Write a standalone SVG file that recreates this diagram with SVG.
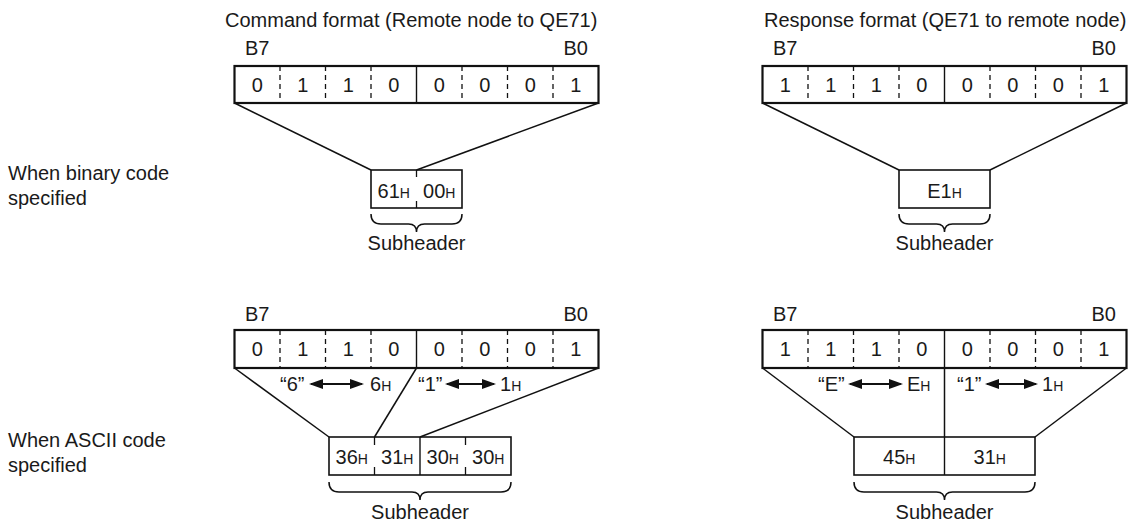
<svg xmlns="http://www.w3.org/2000/svg" width="1141" height="525" viewBox="0 0 1141 525">
<style>
text{font-family:"Liberation Sans",Arial,Helvetica,sans-serif;fill:#1a1a1a;font-size:20px}
.m{text-anchor:middle}
.h{font-size:14px}
.frame{fill:none;stroke:#111;stroke-width:2.2}
.box{fill:#fff;stroke:#111;stroke-width:1.6}
.solid{stroke:#111;stroke-width:1.4}
.dash{stroke:#111;stroke-width:1.3;stroke-dasharray:5 4}
.tick{stroke:#111;stroke-width:1.3}
.ln{fill:none;stroke:#111;stroke-width:1.5}
.arr{stroke:#111;stroke-width:2;marker-start:url(#ah);marker-end:url(#ah)}
</style>
<defs>
<marker id="ah" markerUnits="userSpaceOnUse" markerWidth="14" markerHeight="10" refX="12" refY="5" orient="auto-start-reverse">
<path d="M0,0 L14,5 L0,10 Z" fill="#111"/>
</marker>
</defs>

<g id="title-cmd"><text x="225" y="27">Command format (Remote node to QE71)</text></g>
<g id="title-resp"><text x="764" y="27">Response format (QE71 to remote node)</text></g>

<g id="label-binary"><text x="8" y="180">When binary code</text><text x="8" y="205">specified</text></g>
<g id="label-ascii"><text x="8" y="447">When ASCII code</text><text x="8" y="472">specified</text></g>

<!-- Command, binary -->
<g id="reg-cmd-bin">
<text class="m" x="257.25" y="55">B7</text><text class="m" x="575.75" y="55">B0</text>
<rect class="frame" x="234.5" y="66" width="364" height="37"/>
<line class="dash" x1="280" y1="66" x2="280" y2="103"/><line class="dash" x1="325.5" y1="66" x2="325.5" y2="103"/><line class="dash" x1="371" y1="66" x2="371" y2="103"/>
<line class="solid" x1="416.5" y1="66" x2="416.5" y2="103"/>
<line class="dash" x1="462" y1="66" x2="462" y2="103"/><line class="dash" x1="507.5" y1="66" x2="507.5" y2="103"/><line class="dash" x1="553" y1="66" x2="553" y2="103"/>
<text class="m" x="257.25" y="92">0</text><text class="m" x="302.75" y="92">1</text><text class="m" x="348.25" y="92">1</text><text class="m" x="393.75" y="92">0</text>
<text class="m" x="439.25" y="92">0</text><text class="m" x="484.75" y="92">0</text><text class="m" x="530.25" y="92">0</text><text class="m" x="575.75" y="92">1</text>
</g>
<g id="sub-cmd-bin">
<rect class="box" x="371" y="170" width="91" height="38"/>
<line class="tick" x1="416.5" y1="170" x2="416.5" y2="177"/><line class="tick" x1="416.5" y1="201" x2="416.5" y2="208"/>
<text class="m" x="393.75" y="198">61<tspan class="h">H</tspan></text>
<text class="m" x="439.25" y="198">00<tspan class="h">H</tspan></text>
<text class="m" x="416.5" y="250">Subheader</text>
</g>

<!-- Response, binary -->
<g id="reg-resp-bin">
<text class="m" x="785.25" y="55">B7</text><text class="m" x="1103.75" y="55">B0</text>
<rect class="frame" x="762.5" y="66" width="364" height="37"/>
<line class="dash" x1="808" y1="66" x2="808" y2="103"/><line class="dash" x1="853.5" y1="66" x2="853.5" y2="103"/><line class="dash" x1="899" y1="66" x2="899" y2="103"/>
<line class="solid" x1="944.5" y1="66" x2="944.5" y2="103"/>
<line class="dash" x1="990" y1="66" x2="990" y2="103"/><line class="dash" x1="1035.5" y1="66" x2="1035.5" y2="103"/><line class="dash" x1="1081" y1="66" x2="1081" y2="103"/>
<text class="m" x="785.25" y="92">1</text><text class="m" x="830.75" y="92">1</text><text class="m" x="876.25" y="92">1</text><text class="m" x="921.75" y="92">0</text>
<text class="m" x="967.25" y="92">0</text><text class="m" x="1012.75" y="92">0</text><text class="m" x="1058.25" y="92">0</text><text class="m" x="1103.75" y="92">1</text>
</g>
<g id="sub-resp-bin">
<rect class="box" x="899" y="170" width="91" height="38"/>
<text class="m" x="944.5" y="198">E1<tspan class="h">H</tspan></text>
<text class="m" x="944.5" y="250">Subheader</text>
</g>

<!-- Command, ASCII -->
<g id="reg-cmd-ascii">
<text class="m" x="257.25" y="321">B7</text><text class="m" x="575.75" y="321">B0</text>
<rect class="frame" x="234.5" y="330" width="364" height="38"/>
<line class="dash" x1="280" y1="330" x2="280" y2="368"/><line class="dash" x1="325.5" y1="330" x2="325.5" y2="368"/><line class="dash" x1="371" y1="330" x2="371" y2="368"/>
<line class="solid" x1="416.5" y1="330" x2="416.5" y2="368"/>
<line class="dash" x1="462" y1="330" x2="462" y2="368"/><line class="dash" x1="507.5" y1="330" x2="507.5" y2="368"/><line class="dash" x1="553" y1="330" x2="553" y2="368"/>
<text class="m" x="257.25" y="356">0</text><text class="m" x="302.75" y="356">1</text><text class="m" x="348.25" y="356">1</text><text class="m" x="393.75" y="356">0</text>
<text class="m" x="439.25" y="356">0</text><text class="m" x="484.75" y="356">0</text><text class="m" x="530.25" y="356">0</text><text class="m" x="575.75" y="356">1</text>
</g>
<g id="conv-cmd-ascii">
<text x="280" y="391">“6”</text><text x="370" y="391">6<tspan class="h">H</tspan></text>
<text x="418" y="391">“1”</text><text x="500" y="391">1<tspan class="h">H</tspan></text>
</g>
<g id="sub-cmd-ascii">
<rect class="box" x="329" y="437" width="182" height="38"/>
<line class="tick" x1="374.5" y1="437" x2="374.5" y2="445"/><line class="tick" x1="374.5" y1="467" x2="374.5" y2="475"/>
<line class="solid" x1="420" y1="437" x2="420" y2="475"/>
<line class="tick" x1="465.5" y1="437" x2="465.5" y2="445"/><line class="tick" x1="465.5" y1="467" x2="465.5" y2="475"/>
<text class="m" x="351.75" y="464">36<tspan class="h">H</tspan></text>
<text class="m" x="397.25" y="464">31<tspan class="h">H</tspan></text>
<text class="m" x="442.75" y="464">30<tspan class="h">H</tspan></text>
<text class="m" x="488.25" y="464">30<tspan class="h">H</tspan></text>
<text class="m" x="420" y="519">Subheader</text>
</g>

<!-- Response, ASCII -->
<g id="reg-resp-ascii">
<text class="m" x="785.25" y="321">B7</text><text class="m" x="1103.75" y="321">B0</text>
<rect class="frame" x="762.5" y="330" width="364" height="38"/>
<line class="dash" x1="808" y1="330" x2="808" y2="368"/><line class="dash" x1="853.5" y1="330" x2="853.5" y2="368"/><line class="dash" x1="899" y1="330" x2="899" y2="368"/>
<line class="solid" x1="944.5" y1="330" x2="944.5" y2="368"/>
<line class="dash" x1="990" y1="330" x2="990" y2="368"/><line class="dash" x1="1035.5" y1="330" x2="1035.5" y2="368"/><line class="dash" x1="1081" y1="330" x2="1081" y2="368"/>
<text class="m" x="785.25" y="356">1</text><text class="m" x="830.75" y="356">1</text><text class="m" x="876.25" y="356">1</text><text class="m" x="921.75" y="356">0</text>
<text class="m" x="967.25" y="356">0</text><text class="m" x="1012.75" y="356">0</text><text class="m" x="1058.25" y="356">0</text><text class="m" x="1103.75" y="356">1</text>
</g>
<g id="conv-resp-ascii">
<text x="818" y="391">“E”</text><text x="907" y="391">E<tspan class="h">H</tspan></text>
<text x="957" y="391">“1”</text><text x="1042" y="391">1<tspan class="h">H</tspan></text>
</g>
<g id="sub-resp-ascii">
<rect class="box" x="854" y="437" width="181" height="38"/>
<line class="solid" x1="944.5" y1="437" x2="944.5" y2="475"/>
<text class="m" x="899.25" y="464">45<tspan class="h">H</tspan></text>
<text class="m" x="989.75" y="464">31<tspan class="h">H</tspan></text>
<text class="m" x="944.5" y="519">Subheader</text>
</g>

<g id="connectors">
<!-- binary trapezoids -->
<line class="ln" x1="234.5" y1="103" x2="371" y2="170"/>
<line class="ln" x1="598.5" y1="103" x2="416.5" y2="170"/>
<line class="ln" x1="762.5" y1="103" x2="899" y2="170"/>
<line class="ln" x1="1126.5" y1="103" x2="990" y2="170"/>
<!-- ascii trapezoids -->
<line class="ln" x1="234.5" y1="368" x2="329" y2="437"/>
<line class="ln" x1="416.5" y1="368" x2="374.5" y2="437"/>
<line class="ln" x1="598.5" y1="368" x2="420" y2="437"/>
<line class="ln" x1="762.5" y1="368" x2="854" y2="437"/>
<line class="ln" x1="944.5" y1="368" x2="944.5" y2="437"/>
<line class="ln" x1="1126.5" y1="368" x2="1035" y2="437"/>
<!-- conversion arrows -->
<line class="arr" x1="311" y1="384" x2="362" y2="384"/>
<line class="arr" x1="447" y1="384" x2="494" y2="384"/>
<line class="arr" x1="850" y1="384" x2="901" y2="384"/>
<line class="arr" x1="987" y1="384" x2="1036" y2="384"/>
<!-- braces -->
<path class="ln" d="M371,214 Q371,224 381,224 L408.5,224 Q416.5,224 416.5,232 Q416.5,224 424.5,224 L452,224 Q462,224 462,214"/>
<path class="ln" d="M899,214 Q899,224 909,224 L936.5,224 Q944.5,224 944.5,232 Q944.5,224 952.5,224 L980,224 Q990,224 990,214"/>
<path class="ln" d="M329,482 Q329,492 339,492 L412,492 Q420,492 420,500 Q420,492 428,492 L501,492 Q511,492 511,482"/>
<path class="ln" d="M854,482 Q854,492 864,492 L936.5,492 Q944.5,492 944.5,500 Q944.5,492 952.5,492 L1025,492 Q1035,492 1035,482"/>
</g>
</svg>
